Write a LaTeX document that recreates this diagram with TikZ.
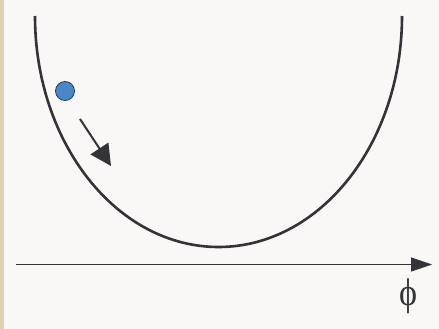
\documentclass[tikz,border=0pt]{standalone}
\usepackage{fontspec}
\newfontfamily\grkfont{Liberation Serif}
\usetikzlibrary{arrows.meta}
\definecolor{bg}{HTML}{F9F8F6}
\definecolor{strip}{HTML}{DFD2B2}
\definecolor{ink}{HTML}{333338}
\definecolor{ballblue}{HTML}{4A87C9}
\definecolor{ballrim}{HTML}{2C3A55}
\tikzset{
  potential/.style={draw=ink, line width=2.6pt},
  motion/.style={draw=ink, line width=2pt, -{Triangle[length=21pt,width=21pt]}},
  axisline/.style={draw=ink, line width=1.4pt, -{Triangle[length=21pt,width=14pt]}},
  ball/.style={circle, fill=ballblue, draw=ballrim, line width=0.8pt, minimum size=19pt, inner sep=0pt},
}
\begin{document}
\begin{tikzpicture}[x=1pt, y=-1pt]
\useasboundingbox (0,0) rectangle (439,329);
\fill[bg] (0,0) rectangle (439,329);
\fill[strip] (0,0) rectangle (4,329);
% potential well (lower half of an ellipse)
\coordinate (wellL) at (35,16);
\draw[potential] (wellL) arc[start angle=180, end angle=0, x radius=183.5, y radius=231];
% ball
\node[ball] (ball) at (65,91) {};
% motion arrow
\coordinate (m0) at (80,119);
\coordinate (m1) at (111,166);
\draw[motion] (m0) -- (m1);
% axis
\coordinate (ax0) at (16,264.5);
\coordinate (ax1) at (432,264.5);
\draw[axisline] (ax0) -- (ax1);
\node[inner sep=0pt, text=ink] (phi) at (408,296.5) {\resizebox*{18pt}{35pt}{\grkfont ϕ}};
\end{tikzpicture}
\end{document}
